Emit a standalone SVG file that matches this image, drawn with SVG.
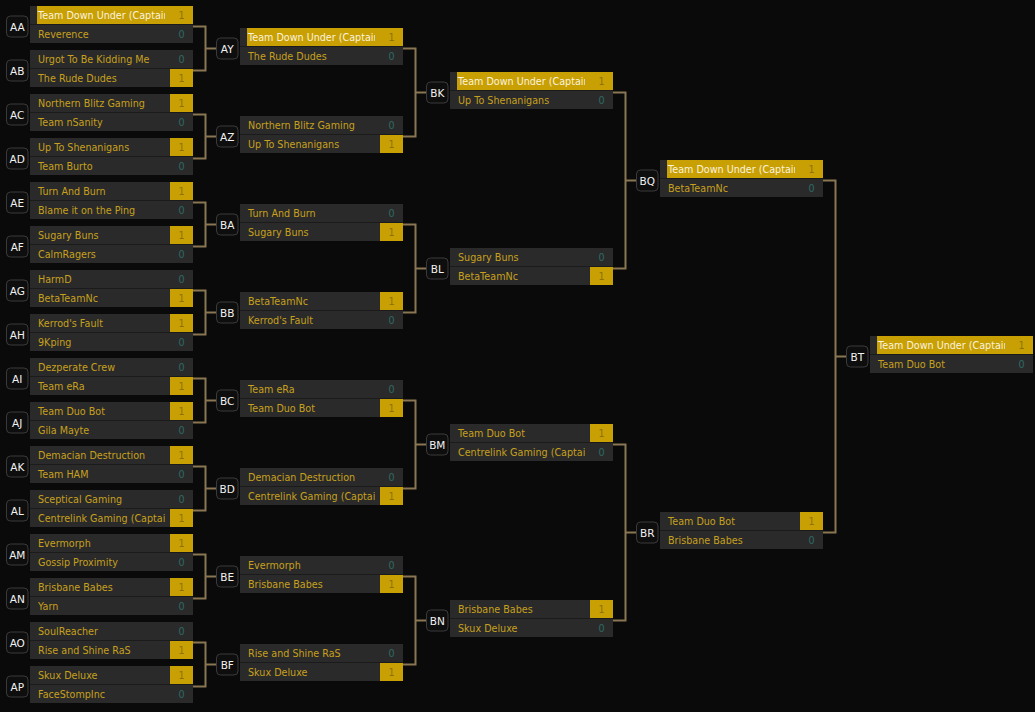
<svg xmlns="http://www.w3.org/2000/svg" width="1035" height="712" viewBox="0 0 1035 712">
<defs>
<clipPath id="nc" clipPathUnits="userSpaceOnUse"><rect x="0" y="0" width="135" height="40"/></clipPath>
<style>
.bgall{fill:#0a0a0a}
.lb{fill:#0e0e0e;stroke:#3a3a3a;stroke-width:1}
.lt{fill:#f2f2f2;font-family:"DejaVu Sans",Verdana,sans-serif;font-size:10.5px;text-anchor:middle}
.bg{fill:#1b1b1b}
.rw{fill:#2a2a2a}
.gd{fill:#c9a004}
.nm{fill:#c6a01e;font-family:"DejaVu Sans",Verdana,sans-serif;font-size:9.6px;clip-path:url(#nc)}
.hn{fill:#fbf3de}
.sc{font-family:"DejaVu Sans",Verdana,sans-serif;font-size:9.6px;text-anchor:middle}
.s0{fill:#2e6b66}
.s1{fill:#8c7304}
.cn{fill:none;stroke:#8a7652;stroke-width:2}
</style>
</defs>
<rect class="bgall" width="1035" height="712"/>
<g id="connectors">
<path class="cn" d="M193 26.5H205.5V70.5H193M205.5 48.5H216"/>
<path class="cn" d="M193 114.5H205.5V158.5H193M205.5 136.5H216"/>
<path class="cn" d="M193 202.5H205.5V246.5H193M205.5 224.5H216"/>
<path class="cn" d="M193 290.5H205.5V334.5H193M205.5 312.5H216"/>
<path class="cn" d="M193 378.5H205.5V422.5H193M205.5 400.5H216"/>
<path class="cn" d="M193 466.5H205.5V510.5H193M205.5 488.5H216"/>
<path class="cn" d="M193 554.5H205.5V598.5H193M205.5 576.5H216"/>
<path class="cn" d="M193 642.5H205.5V686.5H193M205.5 664.5H216"/>
<path class="cn" d="M403 48.5H415.5V136.5H403M415.5 92.5H426"/>
<path class="cn" d="M403 224.5H415.5V312.5H403M415.5 268.5H426"/>
<path class="cn" d="M403 400.5H415.5V488.5H403M415.5 444.5H426"/>
<path class="cn" d="M403 576.5H415.5V664.5H403M415.5 620.5H426"/>
<path class="cn" d="M613 92.5H625.5V268.5H613M625.5 180.5H636"/>
<path class="cn" d="M613 444.5H625.5V620.5H613M625.5 532.5H636"/>
<path class="cn" d="M823 180.5H835.5V532.5H823M835.5 356.5H846"/>
</g>

<!-- Round 1 -->
<g id="AA" transform="translate(30,6)"><rect class="lb" x="-23.5" y="10" width="21.5" height="21" rx="4"/><text class="lt" x="-12.75" y="24.5">AA</text><rect class="bg" width="163" height="37"/><rect class="rw" width="163" height="18"/><rect class="rw" y="19" width="163" height="18"/><rect class="gd" x="7" width="156" height="18"/><text class="nm hn" x="8" y="13">Team Down Under (Captain</text><text class="sc s1" x="151.5" y="13">1</text><text class="nm" x="8" y="32">Reverence</text><text class="sc s0" x="151.5" y="32">0</text></g>
<g id="AB" transform="translate(30,50)"><rect class="lb" x="-23.5" y="10" width="21.5" height="21" rx="4"/><text class="lt" x="-12.75" y="24.5">AB</text><rect class="bg" width="163" height="37"/><rect class="rw" width="163" height="18"/><rect class="rw" y="19" width="163" height="18"/><rect class="gd" x="140" y="19" width="23" height="18"/><text class="nm" x="8" y="13">Urgot To Be Kidding Me</text><text class="sc s0" x="151.5" y="13">0</text><text class="nm" x="8" y="32">The Rude Dudes</text><text class="sc s1" x="151.5" y="32">1</text></g>
<g id="AC" transform="translate(30,94)"><rect class="lb" x="-23.5" y="10" width="21.5" height="21" rx="4"/><text class="lt" x="-12.75" y="24.5">AC</text><rect class="bg" width="163" height="37"/><rect class="rw" width="163" height="18"/><rect class="rw" y="19" width="163" height="18"/><rect class="gd" x="140" y="0" width="23" height="18"/><text class="nm" x="8" y="13">Northern Blitz Gaming</text><text class="sc s1" x="151.5" y="13">1</text><text class="nm" x="8" y="32">Team nSanity</text><text class="sc s0" x="151.5" y="32">0</text></g>
<g id="AD" transform="translate(30,138)"><rect class="lb" x="-23.5" y="10" width="21.5" height="21" rx="4"/><text class="lt" x="-12.75" y="24.5">AD</text><rect class="bg" width="163" height="37"/><rect class="rw" width="163" height="18"/><rect class="rw" y="19" width="163" height="18"/><rect class="gd" x="140" y="0" width="23" height="18"/><text class="nm" x="8" y="13">Up To Shenanigans</text><text class="sc s1" x="151.5" y="13">1</text><text class="nm" x="8" y="32">Team Burto</text><text class="sc s0" x="151.5" y="32">0</text></g>
<g id="AE" transform="translate(30,182)"><rect class="lb" x="-23.5" y="10" width="21.5" height="21" rx="4"/><text class="lt" x="-12.75" y="24.5">AE</text><rect class="bg" width="163" height="37"/><rect class="rw" width="163" height="18"/><rect class="rw" y="19" width="163" height="18"/><rect class="gd" x="140" y="0" width="23" height="18"/><text class="nm" x="8" y="13">Turn And Burn</text><text class="sc s1" x="151.5" y="13">1</text><text class="nm" x="8" y="32">Blame it on the Ping</text><text class="sc s0" x="151.5" y="32">0</text></g>
<g id="AF" transform="translate(30,226)"><rect class="lb" x="-23.5" y="10" width="21.5" height="21" rx="4"/><text class="lt" x="-12.75" y="24.5">AF</text><rect class="bg" width="163" height="37"/><rect class="rw" width="163" height="18"/><rect class="rw" y="19" width="163" height="18"/><rect class="gd" x="140" y="0" width="23" height="18"/><text class="nm" x="8" y="13">Sugary Buns</text><text class="sc s1" x="151.5" y="13">1</text><text class="nm" x="8" y="32">CalmRagers</text><text class="sc s0" x="151.5" y="32">0</text></g>
<g id="AG" transform="translate(30,270)"><rect class="lb" x="-23.5" y="10" width="21.5" height="21" rx="4"/><text class="lt" x="-12.75" y="24.5">AG</text><rect class="bg" width="163" height="37"/><rect class="rw" width="163" height="18"/><rect class="rw" y="19" width="163" height="18"/><rect class="gd" x="140" y="19" width="23" height="18"/><text class="nm" x="8" y="13">HarmD</text><text class="sc s0" x="151.5" y="13">0</text><text class="nm" x="8" y="32">BetaTeamNc</text><text class="sc s1" x="151.5" y="32">1</text></g>
<g id="AH" transform="translate(30,314)"><rect class="lb" x="-23.5" y="10" width="21.5" height="21" rx="4"/><text class="lt" x="-12.75" y="24.5">AH</text><rect class="bg" width="163" height="37"/><rect class="rw" width="163" height="18"/><rect class="rw" y="19" width="163" height="18"/><rect class="gd" x="140" y="0" width="23" height="18"/><text class="nm" x="8" y="13">Kerrod's Fault</text><text class="sc s1" x="151.5" y="13">1</text><text class="nm" x="8" y="32">9Kping</text><text class="sc s0" x="151.5" y="32">0</text></g>
<g id="AI" transform="translate(30,358)"><rect class="lb" x="-23.5" y="10" width="21.5" height="21" rx="4"/><text class="lt" x="-12.75" y="24.5">AI</text><rect class="bg" width="163" height="37"/><rect class="rw" width="163" height="18"/><rect class="rw" y="19" width="163" height="18"/><rect class="gd" x="140" y="19" width="23" height="18"/><text class="nm" x="8" y="13">Dezperate Crew</text><text class="sc s0" x="151.5" y="13">0</text><text class="nm" x="8" y="32">Team eRa</text><text class="sc s1" x="151.5" y="32">1</text></g>
<g id="AJ" transform="translate(30,402)"><rect class="lb" x="-23.5" y="10" width="21.5" height="21" rx="4"/><text class="lt" x="-12.75" y="24.5">AJ</text><rect class="bg" width="163" height="37"/><rect class="rw" width="163" height="18"/><rect class="rw" y="19" width="163" height="18"/><rect class="gd" x="140" y="0" width="23" height="18"/><text class="nm" x="8" y="13">Team Duo Bot</text><text class="sc s1" x="151.5" y="13">1</text><text class="nm" x="8" y="32">Gila Mayte</text><text class="sc s0" x="151.5" y="32">0</text></g>
<g id="AK" transform="translate(30,446)"><rect class="lb" x="-23.5" y="10" width="21.5" height="21" rx="4"/><text class="lt" x="-12.75" y="24.5">AK</text><rect class="bg" width="163" height="37"/><rect class="rw" width="163" height="18"/><rect class="rw" y="19" width="163" height="18"/><rect class="gd" x="140" y="0" width="23" height="18"/><text class="nm" x="8" y="13">Demacian Destruction</text><text class="sc s1" x="151.5" y="13">1</text><text class="nm" x="8" y="32">Team HAM</text><text class="sc s0" x="151.5" y="32">0</text></g>
<g id="AL" transform="translate(30,490)"><rect class="lb" x="-23.5" y="10" width="21.5" height="21" rx="4"/><text class="lt" x="-12.75" y="24.5">AL</text><rect class="bg" width="163" height="37"/><rect class="rw" width="163" height="18"/><rect class="rw" y="19" width="163" height="18"/><rect class="gd" x="140" y="19" width="23" height="18"/><text class="nm" x="8" y="13">Sceptical Gaming</text><text class="sc s0" x="151.5" y="13">0</text><text class="nm" x="8" y="32">Centrelink Gaming (Captain</text><text class="sc s1" x="151.5" y="32">1</text></g>
<g id="AM" transform="translate(30,534)"><rect class="lb" x="-23.5" y="10" width="21.5" height="21" rx="4"/><text class="lt" x="-12.75" y="24.5">AM</text><rect class="bg" width="163" height="37"/><rect class="rw" width="163" height="18"/><rect class="rw" y="19" width="163" height="18"/><rect class="gd" x="140" y="0" width="23" height="18"/><text class="nm" x="8" y="13">Evermorph</text><text class="sc s1" x="151.5" y="13">1</text><text class="nm" x="8" y="32">Gossip Proximity</text><text class="sc s0" x="151.5" y="32">0</text></g>
<g id="AN" transform="translate(30,578)"><rect class="lb" x="-23.5" y="10" width="21.5" height="21" rx="4"/><text class="lt" x="-12.75" y="24.5">AN</text><rect class="bg" width="163" height="37"/><rect class="rw" width="163" height="18"/><rect class="rw" y="19" width="163" height="18"/><rect class="gd" x="140" y="0" width="23" height="18"/><text class="nm" x="8" y="13">Brisbane Babes</text><text class="sc s1" x="151.5" y="13">1</text><text class="nm" x="8" y="32">Yarn</text><text class="sc s0" x="151.5" y="32">0</text></g>
<g id="AO" transform="translate(30,622)"><rect class="lb" x="-23.5" y="10" width="21.5" height="21" rx="4"/><text class="lt" x="-12.75" y="24.5">AO</text><rect class="bg" width="163" height="37"/><rect class="rw" width="163" height="18"/><rect class="rw" y="19" width="163" height="18"/><rect class="gd" x="140" y="19" width="23" height="18"/><text class="nm" x="8" y="13">SoulReacher</text><text class="sc s0" x="151.5" y="13">0</text><text class="nm" x="8" y="32">Rise and Shine RaS</text><text class="sc s1" x="151.5" y="32">1</text></g>
<g id="AP" transform="translate(30,666)"><rect class="lb" x="-23.5" y="10" width="21.5" height="21" rx="4"/><text class="lt" x="-12.75" y="24.5">AP</text><rect class="bg" width="163" height="37"/><rect class="rw" width="163" height="18"/><rect class="rw" y="19" width="163" height="18"/><rect class="gd" x="140" y="0" width="23" height="18"/><text class="nm" x="8" y="13">Skux Deluxe</text><text class="sc s1" x="151.5" y="13">1</text><text class="nm" x="8" y="32">FaceStompInc</text><text class="sc s0" x="151.5" y="32">0</text></g>

<!-- Round 2 -->
<g id="AY" transform="translate(240,28)"><rect class="lb" x="-23.5" y="10" width="21.5" height="21" rx="4"/><text class="lt" x="-12.75" y="24.5">AY</text><rect class="bg" width="163" height="37"/><rect class="rw" width="163" height="18"/><rect class="rw" y="19" width="163" height="18"/><rect class="gd" x="7" width="156" height="18"/><text class="nm hn" x="8" y="13">Team Down Under (Captain</text><text class="sc s1" x="151.5" y="13">1</text><text class="nm" x="8" y="32">The Rude Dudes</text><text class="sc s0" x="151.5" y="32">0</text></g>
<g id="AZ" transform="translate(240,116)"><rect class="lb" x="-23.5" y="10" width="21.5" height="21" rx="4"/><text class="lt" x="-12.75" y="24.5">AZ</text><rect class="bg" width="163" height="37"/><rect class="rw" width="163" height="18"/><rect class="rw" y="19" width="163" height="18"/><rect class="gd" x="140" y="19" width="23" height="18"/><text class="nm" x="8" y="13">Northern Blitz Gaming</text><text class="sc s0" x="151.5" y="13">0</text><text class="nm" x="8" y="32">Up To Shenanigans</text><text class="sc s1" x="151.5" y="32">1</text></g>
<g id="BA" transform="translate(240,204)"><rect class="lb" x="-23.5" y="10" width="21.5" height="21" rx="4"/><text class="lt" x="-12.75" y="24.5">BA</text><rect class="bg" width="163" height="37"/><rect class="rw" width="163" height="18"/><rect class="rw" y="19" width="163" height="18"/><rect class="gd" x="140" y="19" width="23" height="18"/><text class="nm" x="8" y="13">Turn And Burn</text><text class="sc s0" x="151.5" y="13">0</text><text class="nm" x="8" y="32">Sugary Buns</text><text class="sc s1" x="151.5" y="32">1</text></g>
<g id="BB" transform="translate(240,292)"><rect class="lb" x="-23.5" y="10" width="21.5" height="21" rx="4"/><text class="lt" x="-12.75" y="24.5">BB</text><rect class="bg" width="163" height="37"/><rect class="rw" width="163" height="18"/><rect class="rw" y="19" width="163" height="18"/><rect class="gd" x="140" y="0" width="23" height="18"/><text class="nm" x="8" y="13">BetaTeamNc</text><text class="sc s1" x="151.5" y="13">1</text><text class="nm" x="8" y="32">Kerrod's Fault</text><text class="sc s0" x="151.5" y="32">0</text></g>
<g id="BC" transform="translate(240,380)"><rect class="lb" x="-23.5" y="10" width="21.5" height="21" rx="4"/><text class="lt" x="-12.75" y="24.5">BC</text><rect class="bg" width="163" height="37"/><rect class="rw" width="163" height="18"/><rect class="rw" y="19" width="163" height="18"/><rect class="gd" x="140" y="19" width="23" height="18"/><text class="nm" x="8" y="13">Team eRa</text><text class="sc s0" x="151.5" y="13">0</text><text class="nm" x="8" y="32">Team Duo Bot</text><text class="sc s1" x="151.5" y="32">1</text></g>
<g id="BD" transform="translate(240,468)"><rect class="lb" x="-23.5" y="10" width="21.5" height="21" rx="4"/><text class="lt" x="-12.75" y="24.5">BD</text><rect class="bg" width="163" height="37"/><rect class="rw" width="163" height="18"/><rect class="rw" y="19" width="163" height="18"/><rect class="gd" x="140" y="19" width="23" height="18"/><text class="nm" x="8" y="13">Demacian Destruction</text><text class="sc s0" x="151.5" y="13">0</text><text class="nm" x="8" y="32">Centrelink Gaming (Captain</text><text class="sc s1" x="151.5" y="32">1</text></g>
<g id="BE" transform="translate(240,556)"><rect class="lb" x="-23.5" y="10" width="21.5" height="21" rx="4"/><text class="lt" x="-12.75" y="24.5">BE</text><rect class="bg" width="163" height="37"/><rect class="rw" width="163" height="18"/><rect class="rw" y="19" width="163" height="18"/><rect class="gd" x="140" y="19" width="23" height="18"/><text class="nm" x="8" y="13">Evermorph</text><text class="sc s0" x="151.5" y="13">0</text><text class="nm" x="8" y="32">Brisbane Babes</text><text class="sc s1" x="151.5" y="32">1</text></g>
<g id="BF" transform="translate(240,644)"><rect class="lb" x="-23.5" y="10" width="21.5" height="21" rx="4"/><text class="lt" x="-12.75" y="24.5">BF</text><rect class="bg" width="163" height="37"/><rect class="rw" width="163" height="18"/><rect class="rw" y="19" width="163" height="18"/><rect class="gd" x="140" y="19" width="23" height="18"/><text class="nm" x="8" y="13">Rise and Shine RaS</text><text class="sc s0" x="151.5" y="13">0</text><text class="nm" x="8" y="32">Skux Deluxe</text><text class="sc s1" x="151.5" y="32">1</text></g>

<!-- Round 3 -->
<g id="BK" transform="translate(450,72)"><rect class="lb" x="-23.5" y="10" width="21.5" height="21" rx="4"/><text class="lt" x="-12.75" y="24.5">BK</text><rect class="bg" width="163" height="37"/><rect class="rw" width="163" height="18"/><rect class="rw" y="19" width="163" height="18"/><rect class="gd" x="7" width="156" height="18"/><text class="nm hn" x="8" y="13">Team Down Under (Captain</text><text class="sc s1" x="151.5" y="13">1</text><text class="nm" x="8" y="32">Up To Shenanigans</text><text class="sc s0" x="151.5" y="32">0</text></g>
<g id="BL" transform="translate(450,248)"><rect class="lb" x="-23.5" y="10" width="21.5" height="21" rx="4"/><text class="lt" x="-12.75" y="24.5">BL</text><rect class="bg" width="163" height="37"/><rect class="rw" width="163" height="18"/><rect class="rw" y="19" width="163" height="18"/><rect class="gd" x="140" y="19" width="23" height="18"/><text class="nm" x="8" y="13">Sugary Buns</text><text class="sc s0" x="151.5" y="13">0</text><text class="nm" x="8" y="32">BetaTeamNc</text><text class="sc s1" x="151.5" y="32">1</text></g>
<g id="BM" transform="translate(450,424)"><rect class="lb" x="-23.5" y="10" width="21.5" height="21" rx="4"/><text class="lt" x="-12.75" y="24.5">BM</text><rect class="bg" width="163" height="37"/><rect class="rw" width="163" height="18"/><rect class="rw" y="19" width="163" height="18"/><rect class="gd" x="140" y="0" width="23" height="18"/><text class="nm" x="8" y="13">Team Duo Bot</text><text class="sc s1" x="151.5" y="13">1</text><text class="nm" x="8" y="32">Centrelink Gaming (Captain</text><text class="sc s0" x="151.5" y="32">0</text></g>
<g id="BN" transform="translate(450,600)"><rect class="lb" x="-23.5" y="10" width="21.5" height="21" rx="4"/><text class="lt" x="-12.75" y="24.5">BN</text><rect class="bg" width="163" height="37"/><rect class="rw" width="163" height="18"/><rect class="rw" y="19" width="163" height="18"/><rect class="gd" x="140" y="0" width="23" height="18"/><text class="nm" x="8" y="13">Brisbane Babes</text><text class="sc s1" x="151.5" y="13">1</text><text class="nm" x="8" y="32">Skux Deluxe</text><text class="sc s0" x="151.5" y="32">0</text></g>

<!-- Round 4 -->
<g id="BQ" transform="translate(660,160)"><rect class="lb" x="-23.5" y="10" width="21.5" height="21" rx="4"/><text class="lt" x="-12.75" y="24.5">BQ</text><rect class="bg" width="163" height="37"/><rect class="rw" width="163" height="18"/><rect class="rw" y="19" width="163" height="18"/><rect class="gd" x="7" width="156" height="18"/><text class="nm hn" x="8" y="13">Team Down Under (Captain</text><text class="sc s1" x="151.5" y="13">1</text><text class="nm" x="8" y="32">BetaTeamNc</text><text class="sc s0" x="151.5" y="32">0</text></g>
<g id="BR" transform="translate(660,512)"><rect class="lb" x="-23.5" y="10" width="21.5" height="21" rx="4"/><text class="lt" x="-12.75" y="24.5">BR</text><rect class="bg" width="163" height="37"/><rect class="rw" width="163" height="18"/><rect class="rw" y="19" width="163" height="18"/><rect class="gd" x="140" y="0" width="23" height="18"/><text class="nm" x="8" y="13">Team Duo Bot</text><text class="sc s1" x="151.5" y="13">1</text><text class="nm" x="8" y="32">Brisbane Babes</text><text class="sc s0" x="151.5" y="32">0</text></g>

<!-- Final -->
<g id="BT" transform="translate(870,336)"><rect class="lb" x="-23.5" y="10" width="21.5" height="21" rx="4"/><text class="lt" x="-12.75" y="24.5">BT</text><rect class="bg" width="163" height="37"/><rect class="rw" width="163" height="18"/><rect class="rw" y="19" width="163" height="18"/><rect class="gd" x="7" width="156" height="18"/><text class="nm hn" x="8" y="13">Team Down Under (Captain</text><text class="sc s1" x="151.5" y="13">1</text><text class="nm" x="8" y="32">Team Duo Bot</text><text class="sc s0" x="151.5" y="32">0</text></g>
</svg>
